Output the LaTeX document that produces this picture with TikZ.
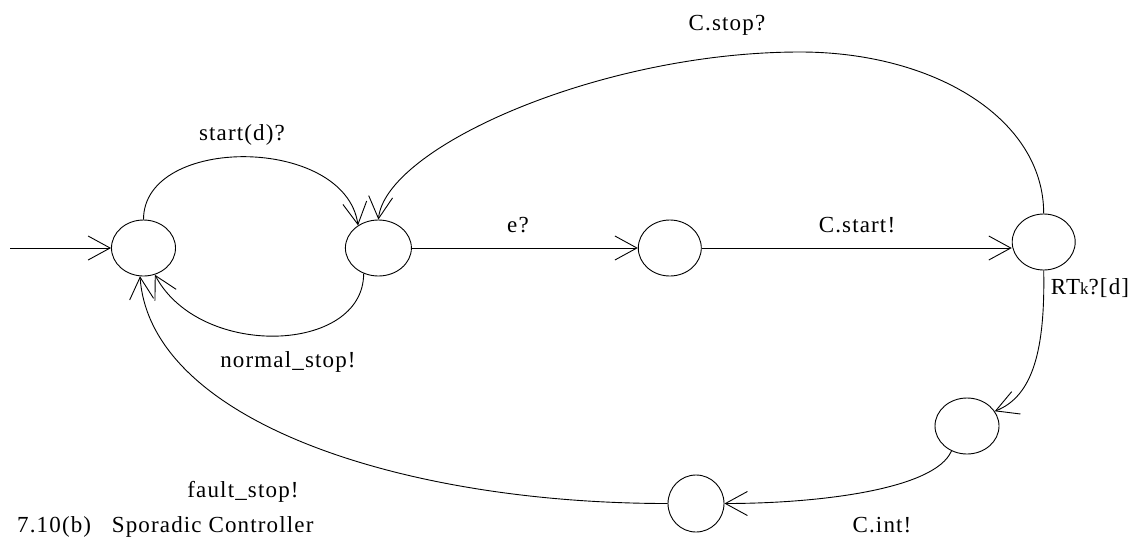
\documentclass[tikz,border=0pt]{standalone}
\usepackage{fontspec}
\setmainfont{Liberation Serif}[LetterSpace=5]
\usepackage{tikz}
\usetikzlibrary{positioning,arrows.meta,shapes.geometric}
\tikzset{
    state/.style={
        ellipse,
        draw=black,
        line width=0.9pt,
        minimum width=64pt,
        minimum height=56pt,
        inner sep=0pt,
    },
    trans/.style={
        -{Straight Barb[length=22pt,width=24pt]},
        line width=0.9pt,
        black,
    },
    translabel/.style={
        anchor=base,
        inner sep=0pt,
        font=\fontsize{23}{27}\selectfont,
    },
}

\begin{document}
\begin{tikzpicture}[x=1pt, y=-1pt]
    \clip (0,0) rectangle (1133,539);

    % States
    \node[state] (s0) at (143.5,248) {};
    \node[state, minimum width=66pt, right=169pt of s0] (s1) {};
    \node[state, minimum width=63pt, right=226pt of s1] (s2) {};
    \node[state, minimum width=63pt, right=310pt of s2, yshift=6pt] (s3) {};
    \node[state] (s4) at (967,426) {};
    \node[state, minimum width=56pt, minimum height=57pt] (s5) at (696,503.5) {};
    \coordinate (init) at (10,248);

    % Transitions
    \draw[trans] (init) -- (s0.west);
    \draw[trans] (s0.north) .. controls +(0,-85) and +(-13,-90) .. (s1.132);
    \draw[trans] (s1.240) .. controls +(0,80) and +(45,85) .. (s0.293);
    \draw[trans] (s1.east) -- (s2.west);
    \draw[trans] (s2.east) -- (s3.west |- s2.east);
    \draw[trans] (s3.north) .. controls +(0,-95) and +(134,0) .. (800,52)
        .. controls +(-200,0) and +(7,-72) .. (s1.north);
    \draw[trans] (s3.south) .. controls +(1.5,80) and +(38,-15) .. (s4.28);
    \draw[trans] (s4.238) .. controls +(-16,38) and +(96,0) .. (s5.east);
    \draw[trans] (s5.west) .. controls +(-268,0) and +(10,144) .. (s0.263);

    % Labels
    \node[translabel] (lstart) at (242,140) {start(d)?};
    \node[translabel] (lnormal) at (288,367) {normal\_stop!};
    \node[translabel] (le) at (518,232) {e?};
    \node[translabel] (lcstart) at (857,232) {C.start!};
    \node[translabel] (lcstop) at (727,30) {C.stop?};
    \node[translabel] (lrt) at (1090,294) {RT{\fontsize{17}{17}\selectfont k}?[d]};
    \node[translabel] (lcint) at (882,532) {C.int!};
    \node[translabel] (lfault) at (243,497) {fault\_stop!};

    % Caption
    \node[translabel, anchor=base west] (caption) at (17,532)
        {7.10(b)\hspace{0.9em}Sporadic Controller};
\end{tikzpicture}
\end{document}
